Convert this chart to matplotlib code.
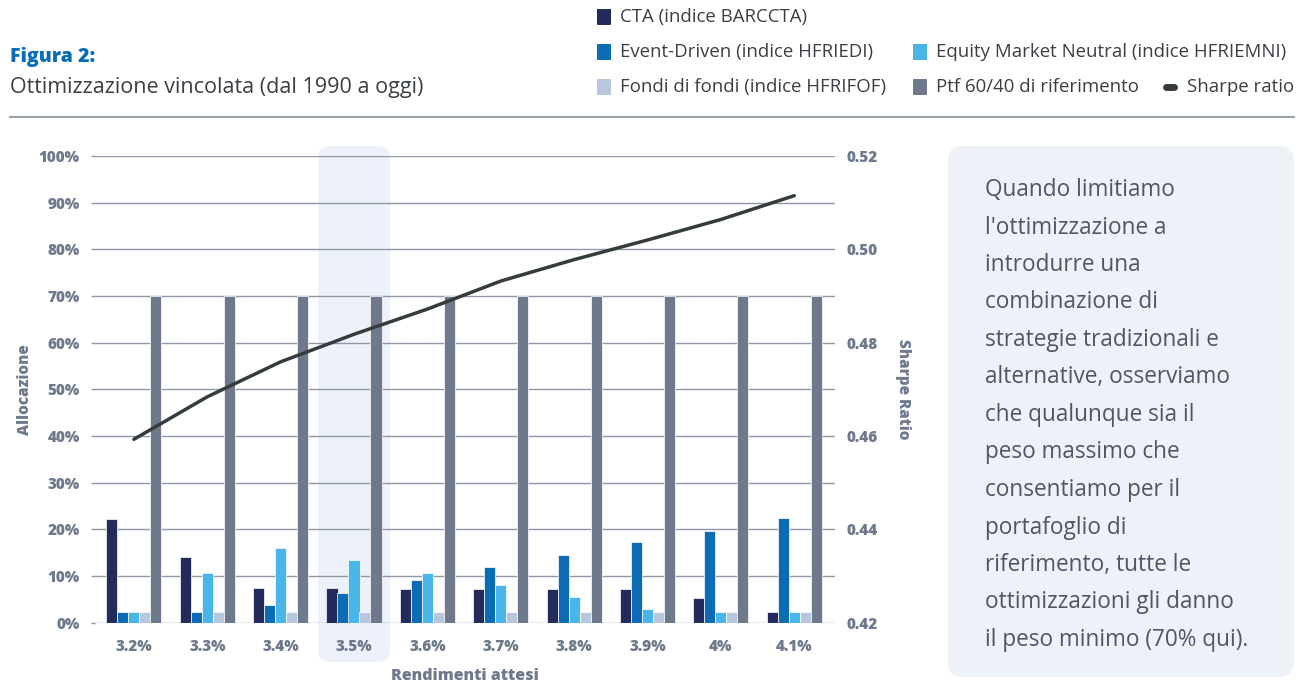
import numpy as np
import matplotlib
matplotlib.use("Agg")
import matplotlib.pyplot as plt
from matplotlib.patches import FancyBboxPatch
from matplotlib.lines import Line2D

plt.rcParams['font.family'] = ['Open Sans', 'DejaVu Sans']

# DATA

categories = ['3.2%', '3.3%', '3.4%', '3.5%', '3.6%', '3.7%', '3.8%', '3.9%', '4%', '4.1%']
cta = [22.3, 14.1, 7.4, 7.4, 7.3, 7.2, 7.2, 7.2, 5.2, 2.3]
event_driven = [2.3, 2.3, 3.7, 6.4, 9.1, 11.9, 14.5, 17.2, 19.6, 22.4]
equity_neutral = [2.3, 10.6, 16.0, 13.4, 10.7, 8.1, 5.4, 2.9, 2.3, 2.3]
fondi_fondi = [2.3, 2.3, 2.3, 2.3, 2.3, 2.3, 2.3, 2.3, 2.3, 2.3]
ptf_6040 = [70, 70, 70, 70, 70, 70, 70, 70, 70, 70]
sharpe = [0.4593, 0.4684, 0.4759, 0.4818, 0.4872, 0.4932, 0.4978, 0.5020, 0.5064, 0.5115]

series_names = ['CTA (indice BARCCTA)', 'Event-Driven (indice HFRIEDI)',
                'Equity Market Neutral (indice HFRIEMNI)', 'Fondi di fondi (indice HFRIFOF)',
                'Ptf 60/40 di riferimento']
highlight = '3.5%'

note_lines = ["Quando limitiamo", "l'ottimizzazione a", "introdurre una", "combinazione di",
              "strategie tradizionali e", "alternative, osserviamo", "che qualunque sia il",
              "peso massimo che", "consentiamo per il", "portafoglio di",
              "riferimento, tutte le", "ottimizzazioni gli danno", "il peso minimo (70% qui)."]

# STYLE

colors = ['#232a5c', '#0b6cb5', '#4ab5e8', '#b9c7de', '#6e7a8b']
line_color = '#353d3c'
grey = '#6e7a8b'
W, H = 1308, 683

def fx(px):
    return px / W

def fy(py):
    return 1 - py / H

fig = plt.figure(figsize=(W / 100, H / 100), dpi=100)
fig.patch.set_facecolor('white')

ax = fig.add_axes([fx(95), fy(622.7), fx(835) - fx(95), fy(156) - fy(622.7)])
ax.set_zorder(2)
ax.patch.set_visible(False)

x = np.arange(len(categories))
xlim = (-0.53, 9.555)
ylim = (0, 100)
ax.set_xlim(*xlim)
ax.set_ylim(*ylim)

# highlighted column
hi = categories.index(highlight)
ax_w_px = 835 - 95
ax_h_px = 622.7 - 156
ux = ax_w_px / (xlim[1] - xlim[0])
uy = ax_h_px / (ylim[1] - ylim[0])
r = 12 / ux
hl = FancyBboxPatch((hi - 0.49 + r, -8.4 + r * ux / uy), 0.98 - 2 * r, 110.5 - 2 * r * ux / uy,
                    boxstyle=f"round,pad={r},rounding_size={r}", mutation_aspect=ux / uy,
                    facecolor='#edf2fa', edgecolor='none', clip_on=False, zorder=0)
ax.add_patch(hl)

# grid
for v in np.arange(0, 101, 10):
    ax.axhline(v, color='#8e98a7', lw=1.0, zorder=1)

data = [cta, event_driven, equity_neutral, fondi_fondi, ptf_6040]
bw = 0.152
offsets = [-0.3, -0.15, 0.0, 0.15, 0.3]
for vals, off, c in zip(data, offsets, colors):
    ax.bar(x + off, vals, width=bw, color=c, edgecolor='white', linewidth=0.5, zorder=3)

for s in ax.spines.values():
    s.set_visible(False)
ax.set_yticks(np.arange(0, 101, 10))
ax.set_yticklabels([f'{v}%' for v in range(0, 101, 10)])
ax.set_xticks(x)
ax.set_xticklabels(categories)
ax.tick_params(axis='y', length=3, width=1, color='#8e98a7', pad=8, labelsize=11, labelcolor=grey)
ax.tick_params(axis='x', length=0, pad=12, labelsize=11, labelcolor=grey)
for t in ax.get_yticklabels() + ax.get_xticklabels():
    t.set_fontweight('heavy')
ax.set_ylabel('Allocazione', fontsize=11, fontweight='heavy', color=grey, va='center')
ax.yaxis.set_label_coords((25 - 95) / ax_w_px, 0.5)
ax.set_xlabel('Rendimenti attesi', fontsize=11.5, fontweight='heavy', color=grey, va='center')
ax.xaxis.set_label_coords(0.5, -(676 - 622.7) / ax_h_px)

ax2 = ax.twinx()
ax2.set_zorder(3)
ax2.patch.set_visible(False)
ax2.set_ylim(0.42, 0.52)
ax2.plot(x, sharpe, color=line_color, lw=2.5, solid_capstyle='round', zorder=4)
for s in ax2.spines.values():
    s.set_visible(False)
ax2.set_yticks(np.arange(0.42, 0.5201, 0.02))
ax2.set_yticklabels([f'{v:.2f}' for v in np.arange(0.42, 0.5201, 0.02)])
ax2.tick_params(axis='y', length=0, pad=8, labelsize=11, labelcolor=grey)
for t in ax2.get_yticklabels():
    t.set_fontweight('heavy')
ax2.set_ylabel('Sharpe Ratio', fontsize=11, fontweight='heavy', color=grey, rotation=270, va='center')
ax2.yaxis.set_label_coords((903 - 95) / ax_w_px, 0.5)

# header
fig.text(fx(10), fy(57), 'Figura 2:', fontsize=14, fontweight='heavy', color='#0a6cb5', va='center')
fig.text(fx(10), fy(87), 'Ottimizzazione vincolata (dal 1990 a oggi)', fontsize=15.5,
         color='#3a3f44', va='center')
fig.add_artist(Line2D([fx(10), fx(1294)], [fy(117), fy(117)], color='#9aa3ae', lw=1.5))

# legend
leg_pos = [(597, 17), (597, 52), (913, 52), (597, 87), (913, 87)]
for (lx, ly), name, c in zip(leg_pos, series_names, colors):
    fig.add_artist(FancyBboxPatch((fx(lx), fy(ly + 8)), fx(14), 16 / H,
                                  boxstyle="round,pad=0,rounding_size=0.001",
                                  transform=fig.transFigure, facecolor=c, edgecolor='none'))
    fig.text(fx(lx + 23), fy(ly), name, fontsize=13.4, color='#3a3f44', va='center')
fig.add_artist(Line2D([fx(1166), fx(1174)], [fy(87), fy(87)], color=line_color, lw=5,
                      solid_capstyle='round'))
fig.text(fx(1187), fy(87), 'Sharpe ratio', fontsize=13.4, color='#3a3f44', va='center')

# note box
box_ax = fig.add_axes([0, 0, 1, 1])
box_ax.set_zorder(0)
box_ax.set_xlim(0, W)
box_ax.set_ylim(H, 0)
box_ax.axis('off')
box_ax.add_patch(FancyBboxPatch((948 + 15, 146 + 15), 346 - 30, 531 - 30,
                                boxstyle="round,pad=15,rounding_size=15",
                                facecolor='#edf2f8', edgecolor='none'))
for i, line in enumerate(note_lines):
    box_ax.text(985, 190 + i * 37.5, line, fontsize=16.3, color='#51575d', va='center')

fig.savefig('out.png', dpi=100)
